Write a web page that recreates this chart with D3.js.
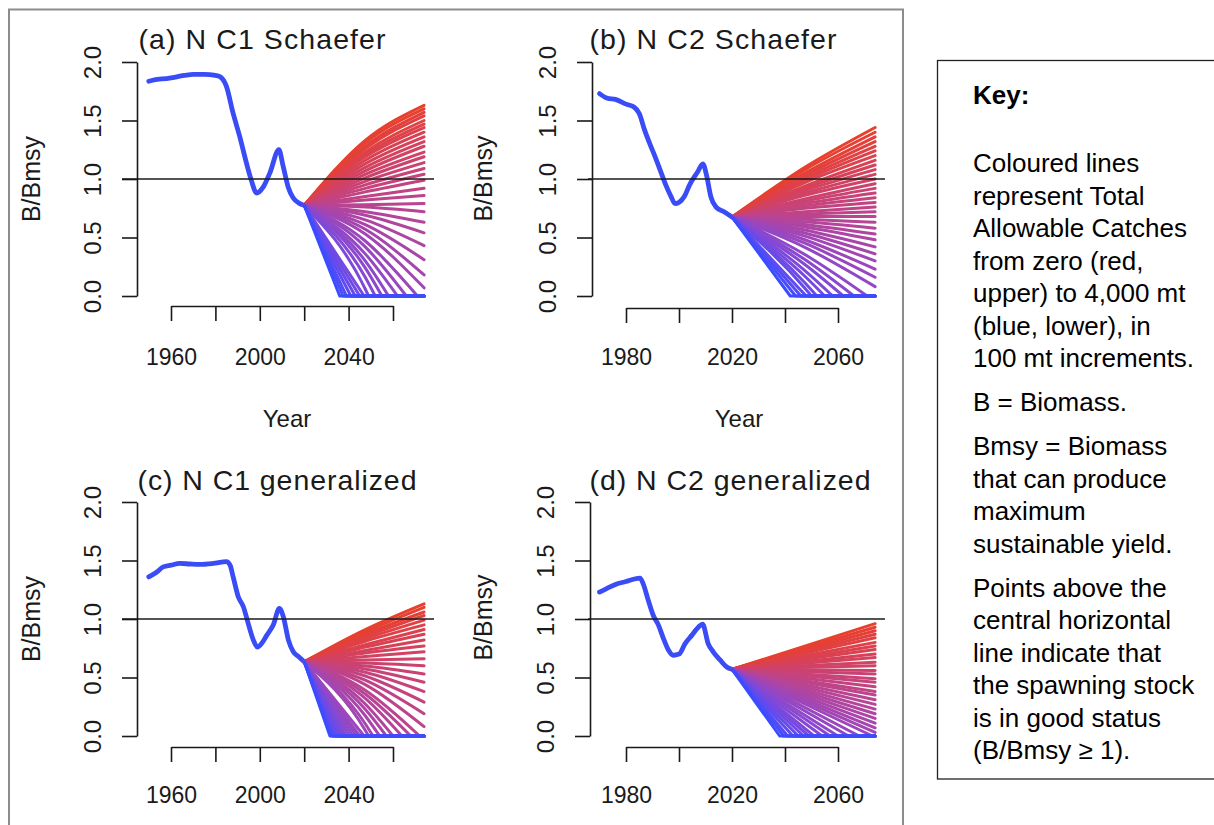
<!DOCTYPE html>
<html><head><meta charset="utf-8">
<script src="https://cdn.jsdelivr.net/npm/d3@7"></script>
<style>
body{margin:0;background:#fff}
svg{display:block}
text{font-family:"Liberation Sans",Arial,sans-serif}
</style>
</head><body>
<svg id="c" width="1214" height="825"></svg>
<script>
// ---------------- DATA ----------------
const panelTitles = ["(a) N C1 Schaefer","(b) N C2 Schaefer","(c) N C1 generalized","(d) N C2 generalized"];
const yTicks = [0, 0.5, 1, 1.5, 2];
const yTickLabels = ["0.0","0.5","1.0","1.5","2.0"];
const xTicksC1 = [1960,1980,2000,2020,2040,2060];
const xLabelsC1 = ["1960","","2000","","2040",""];
const xTicksC2 = [1980,2000,2020,2040,2060];
const xLabelsC2 = ["1980","","2020","","2060"];
const xAxisTitle = "Year";
const yAxisTitle = "B/Bmsy";
const refLevel = 1.0;
const projStartYear = 2020;
const projEndYear = 2074;
const projMidYear = 2047.5;
const tacValues = d3.range(0, 4001, 100); // 41 TAC scenarios, 0..4000 mt

// historic B/Bmsy [year, value]
const histA = [[1950,1.835],[1953,1.85],[1956,1.855],[1960,1.865],[1963,1.875],[1966,1.885],[1970,1.895],[1975,1.895],[1980,1.885],[1982,1.875],[1985,1.79],[1988,1.56],[1991,1.36],[1994,1.135],[1996,1.00],[1998.6,0.88],[2001.5,0.93],[2004.5,1.05],[2008.6,1.25],[2010.5,1.11],[2012.8,0.93],[2015,0.84],[2018,0.79],[2020,0.775]];
const histB = [[1970,1.73],[1973,1.69],[1976,1.68],[1980,1.64],[1983,1.615],[1985,1.56],[1987,1.42],[1989,1.30],[1991,1.19],[1993,1.07],[1995,0.95],[1997,0.85],[1998.5,0.79],[2000,0.80],[2002,0.85],[2004,0.95],[2007,1.06],[2009,1.13],[2010.5,1.02],[2012,0.85],[2014,0.76],[2017,0.72],[2020,0.675]];
const histC = [[1950,1.36],[1953.5,1.40],[1956.5,1.445],[1960,1.46],[1964,1.475],[1968.6,1.47],[1973,1.467],[1979,1.475],[1985,1.49],[1986.6,1.46],[1988,1.36],[1990.3,1.19],[1992.6,1.105],[1994.8,0.96],[1997.1,0.82],[1998.9,0.76],[2000.8,0.79],[2003.1,0.86],[2006.1,0.95],[2008.8,1.09],[2010.6,1.02],[2012.9,0.82],[2015.1,0.72],[2017.4,0.68],[2020,0.635]];
const histD = [[1970,1.23],[1972.7,1.26],[1976.5,1.30],[1980,1.32],[1982.8,1.34],[1985.3,1.35],[1986.5,1.30],[1988.4,1.16],[1990.3,1.03],[1992.2,0.95],[1994.1,0.835],[1996,0.735],[1997.8,0.69],[2000,0.70],[2002.3,0.79],[2004.8,0.86],[2007.3,0.93],[2008.9,0.957],[2011,0.79],[2012.9,0.72],[2015.5,0.65],[2018,0.59],[2020,0.57]];

// projections: value at end year (0 if depleted), year stock hits zero (null if never), value at mid year (null if none)
const projEndA = [1.63,1.60,1.57,1.54,1.50,1.47,1.44,1.40,1.36,1.32,1.28,1.23,1.19,1.14,1.09,1.04,0.99,0.92,0.86,0.79,0.72,0.63,0.54,0.43,0.31,0.18,0.07,0,0,0,0,0,0,0,0,0,0,0,0,0,0];
const projZeroA = [null,null,null,null,null,null,null,null,null,null,null,null,null,null,null,null,null,null,null,null,null,null,null,null,null,null,null,2071,2066,2062,2058,2055,2052,2049,2047,2045,2043,2041,2039,2037.5,2036];
const projMidA = [1.33,1.31,1.28,1.26,1.23,1.21,1.19,1.16,1.13,1.10,1.07,1.04,1.01,0.98,0.95,0.92,0.89,0.85,0.82,0.78,0.76,0.72,0.69,0.65,0.61,0.57,0.53,0.47,0.42,0.36,0.30,0.24,0.16,0.06,null,null,null,null,null,null,null];

const projEndB = [1.44,1.40,1.36,1.32,1.28,1.24,1.20,1.16,1.12,1.08,1.04,1.00,0.96,0.92,0.88,0.84,0.80,0.76,0.72,0.68,0.63,0.58,0.53,0.48,0.42,0.36,0.30,0.23,0.16,0.08,0,0,0,0,0,0,0,0,0,0,0];
const projZeroB = [null,null,null,null,null,null,null,null,null,null,null,null,null,null,null,null,null,null,null,null,null,null,null,null,null,null,null,null,null,null,2071,2066,2062,2058,2055,2052,2050,2048,2046,2044,2042];
const projMidB = [1.10,1.08,1.05,1.03,1.01,0.99,0.97,0.94,0.92,0.90,0.88,0.86,0.83,0.81,0.79,0.77,0.75,0.72,0.70,0.68,0.655,0.634,0.612,0.59,0.564,0.538,0.512,0.481,0.451,0.416,0.354,0.311,0.269,0.217,0.169,0.113,0.067,null,null,null,null];

const projEndC = [1.13,1.10,1.06,1.03,0.99,0.95,0.91,0.87,0.82,0.77,0.72,0.66,0.60,0.53,0.46,0.38,0.29,0.19,0.08,0,0,0,0,0,0,0,0,0,0,0,0,0,0,0,0,0,0,0,0,0,0];
const projZeroC = [null,null,null,null,null,null,null,null,null,null,null,null,null,null,null,null,null,null,null,2072,2068,2064,2060,2057,2054,2051,2049,2047,2045,2043.5,2042,2040.5,2039,2038,2037,2036,2035,2034,2033,2032.3,2031.6];
const projMidC = [0.91,0.89,0.87,0.85,0.83,0.81,0.78,0.76,0.73,0.71,0.68,0.65,0.623,0.598,0.573,0.545,0.513,0.477,0.439,0.391,0.359,0.321,0.273,0.228,0.173,0.105,0.049,null,null,null,null,null,null,null,null,null,null,null,null,null,null];

const projEndD = [0.96,0.93,0.90,0.87,0.84,0.80,0.77,0.74,0.70,0.67,0.63,0.60,0.56,0.53,0.49,0.46,0.42,0.38,0.35,0.31,0.27,0.23,0.19,0.15,0.11,0.07,0.03,0,0,0,0,0,0,0,0,0,0,0,0,0,0];
const projZeroD = [null,null,null,null,null,null,null,null,null,null,null,null,null,null,null,null,null,null,null,null,null,null,null,null,null,null,null,2073,2068,2064,2060,2057,2054,2051,2049,2047,2045,2043,2041,2039.5,2038];
const projMidD = [];

const keyTitle = "Key:";
const keyPara1 = ["Coloured lines","represent Total","Allowable Catches","from zero (red,","upper) to 4,000 mt","(blue, lower), in","100 mt increments."];
const keyPara2 = ["B = Biomass."];
const keyPara3 = ["Bmsy = Biomass","that can produce","maximum","sustainable yield."];
const keyPara4 = ["Points above the","central horizontal","line indicate that","the spawning stock","is in good status","(B/Bmsy \u2265 1)."];

// ---------------- DRAWING ----------------
const svg = d3.select("#c");
const ink = "#1a1a1a";
const histColor = "#3a4cf6";
const tacColor = d3.scaleLinear().domain([0, 4000]).range(["#e8402c", "#3a4cff"]).interpolate(d3.interpolateLab);

// outer grey frame
svg.append("path").attr("d", "M9,826V9.5H903V826").attr("fill", "none")
  .attr("stroke", "#8c8c8c").attr("stroke-width", 2);

const layouts = [
  {xDom:[1960,2060], xRange:[171,393], yRange:[296,62], yAxisX:137, xAxisY:306, ab:[122,434], title:[262,48.5], titleLen:247, yLab:[40,179], year:[287,427], xLabBase:365},
  {xDom:[1980,2060], xRange:[626,838], yRange:[296,62], yAxisX:592, xAxisY:308, ab:[588,885], title:[713,48.5], titleLen:247, yLab:[491.5,178.5], year:[739,427], xLabBase:365},
  {xDom:[1960,2060], xRange:[171,393], yRange:[736,502], yAxisX:137, xAxisY:747, ab:[122,434], title:[277,490], titleLen:279, yLab:[40,619], year:null, xLabBase:803},
  {xDom:[1980,2060], xRange:[626,838], yRange:[736,502], yAxisX:590, xAxisY:747, ab:[588,885], title:[730,490], titleLen:281, yLab:[491.5,617.5], year:null, xLabBase:803}
];
const panelData = [
  {hist:histA, end:projEndA, zero:projZeroA, mid:projMidA, xt:xTicksC1, xl:xLabelsC1},
  {hist:histB, end:projEndB, zero:projZeroB, mid:projMidB, xt:xTicksC2, xl:xLabelsC2},
  {hist:histC, end:projEndC, zero:projZeroC, mid:projMidC, xt:xTicksC1, xl:xLabelsC1},
  {hist:histD, end:projEndD, zero:projZeroD, mid:projMidD, xt:xTicksC2, xl:xLabelsC2}
];

panelData.forEach((P, k) => {
  const L = layouts[k];
  const x = d3.scaleLinear().domain(L.xDom).range(L.xRange);
  const y = d3.scaleLinear().domain([0, 2]).range(L.yRange);
  const g = svg.append("g");

  // title
  g.append("text").attr("x", L.title[0]).attr("y", L.title[1])
    .attr("text-anchor", "middle").attr("font-size", 28.5).attr("fill", ink)
    .attr("textLength", L.titleLen).attr("lengthAdjust", "spacing")
    .text(panelTitles[k]);

  // y axis
  const ya = g.append("g").attr("transform", `translate(${L.yAxisX},0)`)
    .call(d3.axisLeft(y).tickValues(yTicks).tickSize(15).tickSizeOuter(0)
      .tickFormat((d, i) => yTickLabels[i]));
  ya.attr("font-family", null).attr("font-size", null);
  ya.selectAll("path,line").attr("stroke", ink).attr("stroke-width", 1.6);
  ya.selectAll("text").attr("transform", "rotate(-90)").attr("x", 0).attr("y", -36)
    .attr("dy", null).attr("text-anchor", "middle").attr("font-size", 24).attr("fill", ink);

  // x axis
  const xa = g.append("g").attr("transform", `translate(0,${L.xAxisY})`)
    .call(d3.axisBottom(x).tickValues(P.xt).tickSize(15).tickSizeOuter(0)
      .tickFormat((d, i) => P.xl[i]));
  xa.attr("font-family", null).attr("font-size", null);
  xa.selectAll("path,line").attr("stroke", ink).attr("stroke-width", 1.6);
  xa.selectAll("text").attr("y", L.xLabBase - L.xAxisY).attr("dy", null)
    .attr("font-size", 23).attr("fill", ink);

  // axis titles
  g.append("text").attr("transform", `translate(${L.yLab[0]},${L.yLab[1]}) rotate(-90)`)
    .attr("text-anchor", "middle").attr("font-size", 25).attr("fill", ink).text(yAxisTitle);
  if (L.year) {
    g.append("text").attr("x", L.year[0]).attr("y", L.year[1]).attr("text-anchor", "middle")
      .attr("font-size", 24).attr("fill", ink).text(xAxisTitle);
  }

  const curved = d3.line().x(d => x(d[0])).y(d => y(d[1])).curve(d3.curveMonotoneX);

  // historic series
  g.append("path").datum(P.hist).attr("d", curved).attr("fill", "none")
    .attr("stroke", histColor).attr("stroke-width", 4.8)
    .attr("stroke-linecap", "round").attr("stroke-linejoin", "round");

  // projections (red = TAC 0 drawn first, blue = 4000 mt drawn last)
  const start = P.hist[P.hist.length - 1];
  tacValues.forEach((tac, i) => {
    const pts = [[projStartYear, start[1]]];
    const m = P.mid[i];
    if (m !== undefined && m !== null) pts.push([projMidYear, m]);
    let d;
    if (P.zero[i] !== null) {
      pts.push([P.zero[i], 0]);
      d = curved(pts) + `L${x(projEndYear)},${y(0)}`;
    } else {
      pts.push([projEndYear, P.end[i]]);
      d = curved(pts);
    }
    g.append("path").attr("d", d).attr("fill", "none")
      .attr("stroke", tacColor(tac)).attr("stroke-width", 3)
      .attr("stroke-linecap", "round").attr("stroke-linejoin", "round");
  });

  // reference line B/Bmsy = 1
  g.append("line").attr("x1", L.ab[0]).attr("x2", L.ab[1])
    .attr("y1", y(refLevel)).attr("y2", y(refLevel))
    .attr("stroke", ink).attr("stroke-width", 1.6);
});

// key box
svg.append("rect").attr("x", 937.5).attr("y", 60.5).attr("width", 300).attr("height", 718.5)
  .attr("fill", "none").attr("stroke", "#222").attr("stroke-width", 1.3);
const kx = 973, step = 32.5, gap = 44;
svg.append("text").attr("x", kx).attr("y", 104).attr("font-size", 26).attr("font-weight", "bold")
  .attr("fill", "#000").text(keyTitle);
let by = 172;
[keyPara1, keyPara2, keyPara3, keyPara4].forEach((para, pi) => {
  if (pi > 0) by += gap - step;
  para.forEach(t => {
    svg.append("text").attr("x", kx).attr("y", by).attr("font-size", 26).attr("fill", "#000").text(t);
    by += step;
  });
});
</script>
</body></html>
